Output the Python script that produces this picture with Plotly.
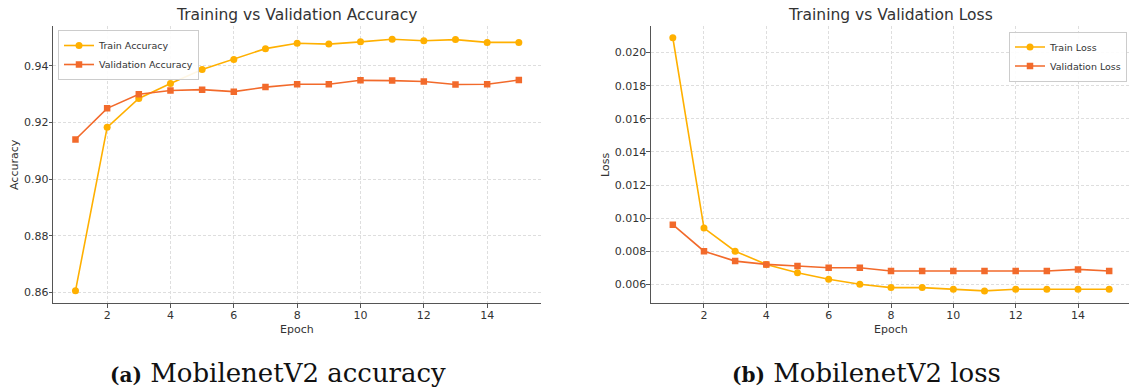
import plotly.graph_objects as go

epochs = list(range(1, 16))
train_acc = [0.8605, 0.9183, 0.9285, 0.9338, 0.9387, 0.9423, 0.9461, 0.9480, 0.9477,
             0.9485, 0.9494, 0.9489, 0.9493, 0.9483, 0.9483]
val_acc = [0.9140, 0.9250, 0.9300, 0.9313, 0.9316, 0.9309, 0.9325, 0.9335, 0.9335,
           0.9349, 0.9348, 0.9345, 0.9334, 0.9335, 0.9350]
train_loss = [0.0209, 0.0094, 0.0080, 0.0072, 0.0067, 0.0063, 0.0060, 0.0058, 0.0058,
              0.0057, 0.0056, 0.0057, 0.0057, 0.0057, 0.0057]
val_loss = [0.0096, 0.0080, 0.0074, 0.0072, 0.0071, 0.0070, 0.0070, 0.0068, 0.0068,
            0.0068, 0.0068, 0.0068, 0.0068, 0.0069, 0.0068]

W, H = 1129, 389
C_TRAIN = "#FFB000"
C_VAL = "#F26A2B"
FONT = "DejaVu Sans"

def px(x):
    return x / W

def py(y):
    return 1 - y / H

fig = go.Figure()

def add_pair(xa, ya, legend, ytr, yva, names):
    fig.add_trace(go.Scatter(x=epochs, y=ytr, name=names[0], mode="lines+markers",
                             line=dict(color=C_TRAIN, width=1.6),
                             marker=dict(symbol="circle", size=7, color=C_TRAIN),
                             xaxis=xa, yaxis=ya, legend=legend))
    fig.add_trace(go.Scatter(x=epochs, y=yva, name=names[1], mode="lines+markers",
                             line=dict(color=C_VAL, width=1.6),
                             marker=dict(symbol="square", size=6.5, color=C_VAL),
                             xaxis=xa, yaxis=ya, legend=legend))

add_pair("x", "y", "legend", train_acc, val_acc, ["Train Accuracy", "Validation Accuracy"])
add_pair("x2", "y2", "legend2", train_loss, val_loss, ["Train Loss", "Validation Loss"])

ydom = [py(303.3), py(26)]
common_axis = dict(showline=True, linecolor="#555555", linewidth=1.3, mirror=False,
                   ticks="outside", ticklen=3.5, tickcolor="#555555", tickwidth=1,
                   showgrid=True, gridcolor="#dedede", gridwidth=0.8, griddash="3px,2px",
                   zeroline=False, automargin=False, ticklabelstandoff=-2,
                   tickfont=dict(family=FONT, size=11, color="#333333"))

fig.update_layout(
    template="none",
    width=W, height=H, margin=dict(l=0, r=0, t=0, b=0, autoexpand=False),
    paper_bgcolor="white", plot_bgcolor="white",
    xaxis=dict(domain=[px(53.3), px(541)], range=[0.3, 15.7], tick0=0, dtick=2,
               anchor="y", **common_axis),
    yaxis=dict(domain=ydom, range=[0.8561, 0.9541], tick0=0.86, dtick=0.02,
               tickformat=".2f", anchor="x", **common_axis),
    xaxis2=dict(domain=[px(651), 1.0], range=[0.3, 15.636], tick0=0, dtick=2,
                anchor="y2", **common_axis),
    yaxis2=dict(domain=ydom, range=[0.00485, 0.02161], tick0=0.006, dtick=0.002,
                tickformat=".3f", anchor="x2", **common_axis),
    legend=dict(x=px(58), y=py(30), xanchor="left", yanchor="top",
                bgcolor="rgba(255,255,255,0.9)", bordercolor="#cccccc", borderwidth=1,
                font=dict(family=FONT, size=9.5, color="#333333"), tracegroupgap=0,
                itemwidth=30),
    legend2=dict(x=px(1127), y=py(31.5), xanchor="right", yanchor="top",
                 bgcolor="rgba(255,255,255,0.9)", bordercolor="#cccccc", borderwidth=1,
                 font=dict(family=FONT, size=9.5, color="#333333"), tracegroupgap=0,
                 itemwidth=30),
    showlegend=True,
)

annots = [
    dict(text="Training vs Validation Accuracy", x=px(297), y=py(15), size=15.5),
    dict(text="Training vs Validation Loss", x=px(891), y=py(15), size=15.5),
    dict(text="Epoch", x=px(297), y=py(329), size=11),
    dict(text="Epoch", x=px(891), y=py(329), size=11),
]
for a in annots:
    fig.add_annotation(text=a["text"], x=a["x"], y=a["y"], xref="paper", yref="paper",
                       showarrow=False, xanchor="center", yanchor="middle",
                       font=dict(family=FONT, size=a["size"], color="#333333"))

fig.add_annotation(text="Accuracy", x=px(14), y=py(165), xref="paper", yref="paper",
                   showarrow=False, textangle=-90, xanchor="center", yanchor="middle",
                   font=dict(family=FONT, size=11, color="#333333"))
fig.add_annotation(text="Loss", x=px(605), y=py(165), xref="paper", yref="paper",
                   showarrow=False, textangle=-90, xanchor="center", yanchor="middle",
                   font=dict(family=FONT, size=11, color="#333333"))

captions = [("(a)", "MobilenetV2 accuracy", 278), ("(b)", "MobilenetV2 loss", 866)]
for lab, txt, cx in captions:
    fig.add_annotation(
        text=f"<b><span style='font-size:20px'>{lab}</span></b> {txt}",
        x=px(cx), y=py(373), xref="paper", yref="paper", showarrow=False,
        xanchor="center", yanchor="middle",
        font=dict(family="DejaVu Serif", size=26, color="#111111"))

fig.write_html("out.html", config={"displayModeBar": False},
               post_script="document.body.style.margin='0';document.body.style.padding='0';")
